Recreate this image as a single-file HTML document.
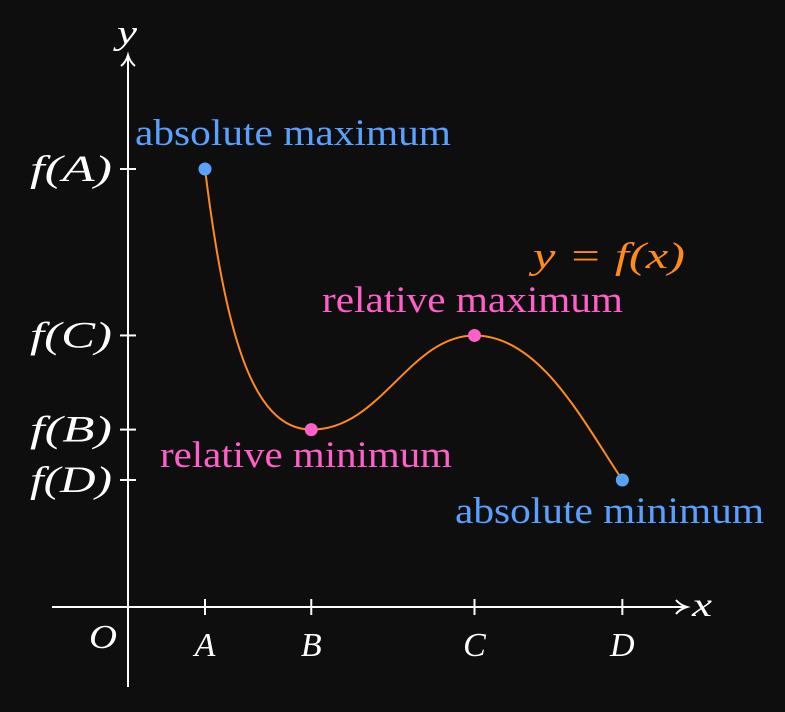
<!DOCTYPE html>
<html><head><meta charset="utf-8"><style>
html,body{margin:0;padding:0;background:#0e0e0e;}
svg text{font-family:"Liberation Serif",serif;}
</style></head><body>
<svg id="chart" width="785" height="707" viewBox="0 0 785 707" xmlns="http://www.w3.org/2000/svg">
<rect width="785" height="707" fill="#0e0e0e"/>
<g id="axes"></g>
<g id="marks"></g>
</svg>
<script>
const labels = ["A","B","C","D"];
const xVals = [1, 2.38, 4.5, 6.42];
const yVals = [10, 4.05, 6.2, 2.9];
const yTickLabels = ["f(A)","f(B)","f(C)","f(D)"];
const pointNames = ["absolute maximum","relative minimum","relative maximum","absolute minimum"];

const ox = 128, oy = 607;
function sx(v){ return ox + v*77; }
function sy(v){ return oy - v*43.8; }
const NS = "http://www.w3.org/2000/svg";
const axes = document.getElementById('axes');
const marks = document.getElementById('marks');
function mk(tag, attrs, parent, txt){
  const e = document.createElementNS(NS, tag);
  for (const k in attrs) e.setAttribute(k, attrs[k]);
  if (txt !== undefined) e.textContent = txt;
  parent.appendChild(e); return e;
}
let e;
e = mk('line',{x1:52,y1:oy,x2:684,y2:oy,stroke:'#fff','stroke-width':2},axes);
 
e = mk('path',{d:'M676,600 Q680,605 687,607 Q680,609 676,614',fill:'none',stroke:'#fff','stroke-width':2},axes);
 
e = mk('line',{x1:ox,y1:687,x2:ox,y2:57,stroke:'#fff','stroke-width':2},axes);
 
e = mk('path',{d:'M121,66 Q126,62 128,55 Q130,62 135,66',fill:'none',stroke:'#fff','stroke-width':2},axes);
 
e = mk('text',{x:692,y:616,fill:'#fff','font-size':34,'font-style':'italic',textLength:20,lengthAdjust:'spacingAndGlyphs'},axes,'x');
 
e = mk('text',{x:117,y:44,fill:'#fff','font-size':34,'font-style':'italic',textLength:20,lengthAdjust:'spacingAndGlyphs'},axes,'y');
 
e = mk('text',{x:89,y:648,fill:'#fff','font-size':34,'font-style':'italic',textLength:28,lengthAdjust:'spacingAndGlyphs'},axes,'O');
 
labels.forEach((l,i)=>{
  const x = sx(xVals[i]);
  let t = mk('line',{x1:x,y1:oy-8,x2:x,y2:oy+8,stroke:'#fff','stroke-width':2},axes);
   
  t = mk('text',{x:x,y:656,fill:'#fff','font-size':34,'font-style':'italic','text-anchor':'middle'},axes,l);
   
  const y = sy(yVals[i]);
  t = mk('line',{x1:ox-8,y1:y,x2:ox+8,y2:y,stroke:'#fff','stroke-width':2},axes);
   
  t = mk('text',{x:112,y:y+12,fill:'#fff','font-size':37,'font-style':'italic','text-anchor':'end',textLength:82,lengthAdjust:'spacingAndGlyphs'},axes,yTickLabels[i]);
   
});
const P = xVals.map((v,i)=>[sx(v), sy(yVals[i])]);
const d = `M${P[0][0]},${P[0][1]} C${P[0][0]+20},${P[1][1]-100} ${P[1][0]-60},${P[1][1]} ${P[1][0]},${P[1][1]}`+
  ` C${P[1][0]+70},${P[1][1]} ${P[2][0]-65},${P[2][1]} ${P[2][0]},${P[2][1]}`+
  ` C${P[2][0]+65},${P[2][1]} ${P[3][0]-40},${P[3][1]-60} ${P[3][0]},${P[3][1]}`;
e = mk('path',{d:d,fill:'none',stroke:'#ff8a1c','stroke-width':2},marks);
 
e = mk('text',{x:533,y:268,fill:'#ff8a1c','font-size':37,'font-style':'italic',textLength:152,lengthAdjust:'spacingAndGlyphs'},marks,'y = f(x)');
 
const colors = ['#5aa0ff','#ff5fc8','#ff5fc8','#5aa0ff'];
const lpos = [[135,145,316],[160,467,292],[322,312,301],[455,523,309]];
P.forEach((p,i)=>{
  let c = mk('circle',{cx:p[0],cy:p[1],r:6.5,fill:colors[i]},marks);
   
  c = mk('text',{x:lpos[i][0],y:lpos[i][1],fill:colors[i],'font-size':37,textLength:lpos[i][2],lengthAdjust:'spacingAndGlyphs'},marks,pointNames[i]);
   
});
</script>
</body></html>
